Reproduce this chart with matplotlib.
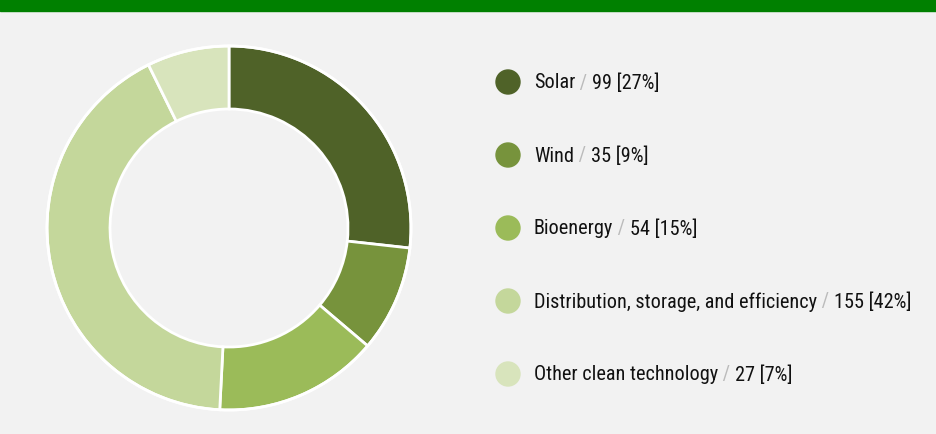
import matplotlib.pyplot as plt
from matplotlib.patches import Circle, Rectangle

categories = ['Solar', 'Wind', 'Bioenergy', 'Distribution, storage, and efficiency', 'Other clean technology']
values = [99, 35, 54, 155, 27]
percents = ['27%', '9%', '15%', '42%', '7%']
colors = ['#4f6228', '#77933c', '#9bbb59', '#c4d79b', '#d8e4bc']

W, H = 937, 435
fig = plt.figure(figsize=(W / 100, H / 100), dpi=100)
fig.patch.set_facecolor('#f2f2f2')
ax = fig.add_axes([0, 0, 1, 1])

# green header band (title cut off above)
ax.add_patch(Rectangle((0, H - 12), W, 12, color='#008000', zorder=1))

# donut
ax.pie(values, colors=colors, startangle=90, counterclock=False,
       center=(229, H - 229), radius=182, frame=True,
       wedgeprops=dict(width=63, edgecolor='white', linewidth=2))
ax.add_patch(Circle((229, H - 229), 182, fill=False, edgecolor='white', lw=2, zorder=5))
ax.set_xlim(0, W)
ax.set_ylim(0, H)
ax.axis('off')

# legend
fig.canvas.draw()
renderer = fig.canvas.get_renderer()
family = ['Roboto Condensed', 'DejaVu Sans']

# size the font so the longest row spans like the reference (~377 px)
probe = ax.text(0, 0, f'{categories[3]} / {values[3]} [{percents[3]}]', fontsize=12, family=family)
size = 12 * 377 / probe.get_window_extent(renderer).width
probe.remove()

y0 = H - 83
for i, (cat, val, pct, col) in enumerate(zip(categories, values, percents, colors)):
    y = y0 - i * 73
    ax.add_patch(Circle((508, y), 12, color=col, zorder=3))
    x = 534
    for s, c in [(cat, '#111111'), (' / ', '#bbbbbb'), (f'{val} [{pct}]', '#111111')]:
        t = ax.text(x, y, s, color=c, va='center', ha='left', fontsize=size, family=family)
        x += t.get_window_extent(renderer).width

fig.savefig('out.png', dpi=100, facecolor=fig.get_facecolor())
